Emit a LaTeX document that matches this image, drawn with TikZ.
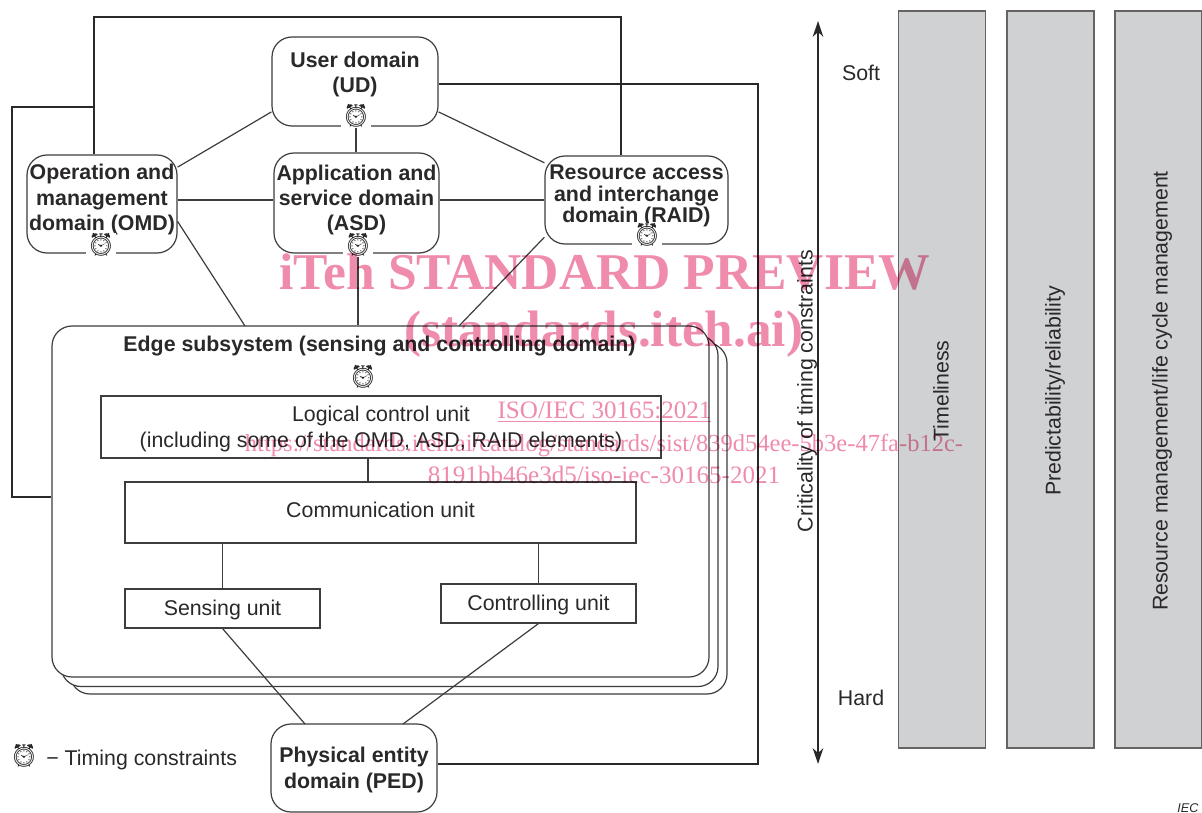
\documentclass[tikz,border=0pt]{standalone}
\usepackage{fontspec}
\setmainfont{Liberation Sans}
\newfontfamily\wmfont{Liberation Serif}
\newfontfamily\clockfont{Noto Emoji}
\usetikzlibrary{calc,arrows.meta,positioning}
\definecolor{ink}{HTML}{2A2829}
\definecolor{boxline}{HTML}{3E3C3D}
\definecolor{barfill}{HTML}{D0D1D3}
\definecolor{wmpink}{HTML}{EE7FA2}
\tikzset{
    dombox/.style={
    rectangle,rounded corners=15pt,draw=boxline,fill=white,line width=0.9pt,inner sep=0pt,align=center,text=ink,font=\bfseries\fontsize{16}{19}\selectfont
    },
    unitbox/.style={
    rectangle,draw=boxline,fill=white,line width=0.8pt,inner sep=0pt,align=center,text=ink,font=\fontsize{16}{19}\selectfont
    },
    edgebox/.style={
    rectangle,rounded corners=15pt,draw=boxline,fill=white,line width=0.9pt,inner sep=0pt,minimum width=492.75pt,minimum height=263.25pt
    },
    barbox/.style={
    rectangle,draw=boxline!80,fill=barfill,line width=0.8pt,inner sep=0pt,minimum width=65.25pt,minimum height=552.75pt
    },
    clockmark/.style={
    fill=white,inner sep=0.2pt,text=ink,font=\clockfont\fontsize{17}{17}\selectfont
    },
    plaintext/.style={
    inner sep=0pt,text=ink,font=\fontsize{16}{19}\selectfont
    },
    linkline/.style={draw=boxline,line width=0.9pt},
    timingline/.style={draw=ink,line width=1.4pt},
    wmark/.style={
    inner sep=0pt,text=wmpink,opacity=0.9
    },
}
\begin{document}
\begin{tikzpicture}[x=0.75pt,y=-0.75pt]
   \useasboundingbox (0,0) rectangle (1202,813);

   \coordinate (ttop) at (94,17);
   \coordinate (traid) at (621,17);
   \coordinate (tleft) at (12,107);
   \coordinate (tright) at (758,84);
   \coordinate (tedge) at (12,497);

   \node[edgebox] (edgec) at (398.5,518.5) {};
   \node[edgebox] (edgeb) at (389.5,511) {};
   \node[edgebox] (edgea) at (380.5,501.5) {};

   \node[dombox,minimum width=124.5pt,minimum height=66.75pt,text depth=13.8pt] (ud) at (355,81.5) {User domain\\(UD)};
   \node[dombox,minimum width=112.5pt,minimum height=73.5pt,text depth=10pt] (omd) at (102,204) {Operation and\\management\\domain (OMD)};
   \node[dombox,minimum width=123.75pt,minimum height=75pt,text depth=7.8pt] (asd) at (356.5,203) {Application and\\service domain\\(ASD)};
   \node[dombox,minimum width=137.25pt,minimum height=66pt,text depth=9.3pt,font=\bfseries\fontsize{16}{16}\selectfont] (raid) at (636.5,200) {Resource access\\and interchange\\domain (RAID)};
   \node[dombox,minimum width=124.5pt,minimum height=66pt,text height=33.5pt] (ped) at (354,768) {Physical entity\\domain (PED)};

   \node[plaintext,font=\bfseries\fontsize{16}{19}\selectfont] (edgetitle) at (379.5,346) {Edge subsystem (sensing and controlling domain)};
   \node[unitbox,minimum width=420pt,minimum height=46.5pt,text height=33.5pt] (lcu) at (381,427) {Logical control unit\\(including some of the OMD, ASD, RAID elements)};
   \node[unitbox,minimum width=383.25pt,minimum height=45.75pt,text depth=4.7pt] (comm) at (380.5,512.5) {Communication unit};
   \node[unitbox,minimum width=146.25pt,minimum height=29.25pt,text height=14.5pt] (sense) at (222.5,608.5) {Sensing unit};
   \node[unitbox,minimum width=146.25pt,minimum height=29.25pt,text height=14.5pt] (ctrl) at (538.5,603.5) {Controlling unit};

   \node[clockmark] (clkud) at (356,116) {⏰};
   \node[clockmark] (clkomd) at (101,245) {⏰};
   \node[clockmark] (clkasd) at (358,245) {⏰};
   \node[clockmark] (clkraid) at (647,235) {⏰};
   \node[clockmark] (clkedge) at (363,377) {⏰};
   \node[clockmark] (clklegend) at (24,756) {⏰};
   \node[plaintext,anchor=west] (legend) at (46,760) {− Timing constraints};

   \node[barbox] (barone) at (942,379.5) {};
   \node[barbox] (bartwo) at (1050.5,379.5) {};
   \node[barbox] (barthree) at (1158.5,379.5) {};
   \node[plaintext,rotate=90] (lone) at (941,391) {Timeliness};
   \node[plaintext,rotate=90] (ltwo) at (1055,391) {Predictability/reliability};
   \node[plaintext,rotate=90] (lthree) at (1162,391) {Resource management/life cycle management};

   \coordinate (crittop) at (818,21);
   \coordinate (critbot) at (818,764);
   \node[plaintext,rotate=90] (crit) at (807,391) {Criticality of timing constraints};
   \node[plaintext] (soft) at (861,73) {Soft};
   \node[plaintext] (hard) at (861,698) {Hard};
   \node[inner sep=0pt,text=ink,font=\itshape\fontsize{9.5}{11}\selectfont] (iec) at (1188,808) {IEC};

   \draw[draw=ink,line width=1pt,{Stealth[length=12pt,width=8pt]}-{Stealth[length=12pt,width=8pt]}] (crittop) -- (critbot);

   \draw[timingline] (ttop |- omd.north) -- (ttop) -- (traid) -- (traid |- raid.north);
   \draw[timingline] (ttop |- tleft) -- (tleft) -- (tedge) -- (tedge -| edgea.west);
   \draw[timingline] (ud.east |- tright) -- (tright) -- (tright |- 0,764) -- (ped.east |- 0,764);

   \path[linkline]
    (ud.200) edge (omd.26.5)
    (ud.340) edge (raid.158)
    (omd.east |- 0,200) edge (asd.west |- 0,200)
    (asd.east |- 0,200) edge (raid.west |- 0,200)
    (clkud.south) edge (clkud.south |- asd.north)
    (omd.-13) edge (245,326)
    (clkasd.south) edge (clkasd.south |- edgea.north)
    (raid.202) edge (459,326)
    (368,458) edge (368,482)
    (sense.north |- comm.south) edge (sense.north)
    (ctrl.north |- comm.south) edge (ctrl.north)
    (sense.south) edge (305,724)
    (ctrl.south) edge (403,724);

   \begin{scope}[blend mode=multiply]
   \node[wmark,font=\wmfont\bfseries\fontsize{38.7}{39}\selectfont] (wmone) at (605,272) {iTeh STANDARD PREVIEW};
   \node[wmark,font=\wmfont\bfseries\fontsize{38.4}{39}\selectfont] (wmtwo) at (604,334) {(standards.iteh.ai)};
   \node[wmark,font=\wmfont\fontsize{18.8}{20}\selectfont] (wmthree) at (604.5,412) {\underline{ISO/IEC 30165:2021}};
   \node[wmark,font=\wmfont\fontsize{18.4}{20}\selectfont] (wmfour) at (604,446) {https://standards.iteh.ai/catalog/standards/sist/839d54ee-5b3e-47fa-b12c-};
   \node[wmark,font=\wmfont\fontsize{18.8}{20}\selectfont] (wmfive) at (604,475) {8191bb46e3d5/iso-iec-30165-2021};
   \end{scope}
\end{tikzpicture}
\end{document}
